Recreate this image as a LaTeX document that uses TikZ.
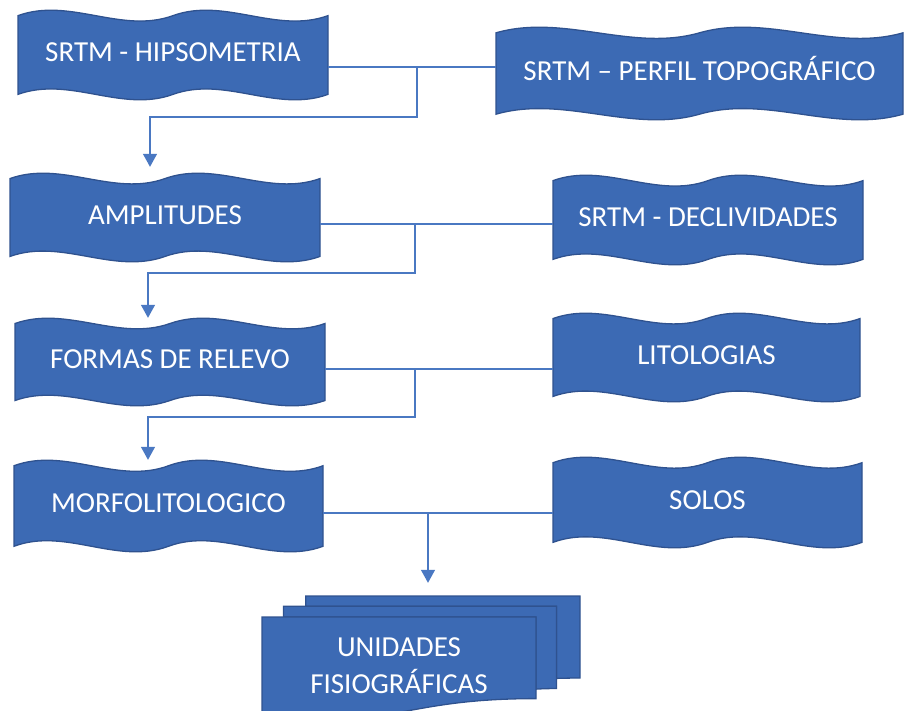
\documentclass[tikz,border=0pt]{standalone}
\usepackage{fontspec}
\setmainfont{Carlito}
\usetikzlibrary{arrows.meta}
\definecolor{wavefill}{HTML}{3C6AB4}
\definecolor{waveline}{HTML}{2F528F}
\definecolor{linkblue}{HTML}{4A78C2}

% double wave box: name, left, top, right, bottom, label
\newcommand\wavebox[6]{%
  \pgfmathsetmacro\wvA{0.0625*(#5-#3)}%
  \pgfmathsetmacro\wvD{\wvA*10/3}%
  \pgfmathsetmacro\wvS{(#4-#2)/6}%
  \filldraw[wave] ({#2},{#3+\wvA})
      .. controls ({#2+\wvS},{#3+\wvA-\wvD}) and ({#2+2*\wvS},{#3+\wvA+\wvD}) .. ({#2+3*\wvS},{#3+\wvA})
      .. controls ({#2+4*\wvS},{#3+\wvA-\wvD}) and ({#2+5*\wvS},{#3+\wvA+\wvD}) .. ({#4},{#3+\wvA})
      -- ({#4},{#5-\wvA})
      .. controls ({#4-\wvS},{#5-\wvA+\wvD}) and ({#4-2*\wvS},{#5-\wvA-\wvD}) .. ({#2+3*\wvS},{#5-\wvA})
      .. controls ({#2+2*\wvS},{#5-\wvA+\wvD}) and ({#2+\wvS},{#5-\wvA-\wvD}) .. ({#2},{#5-\wvA})
      -- cycle;
  \node[wavetext, minimum width={#4-#2}, minimum height={#5-#3}] (#1)
      at ({(#2+#4)/2},{(#3+#5)/2}) {#6};
}

\begin{document}
\begin{tikzpicture}[x=1pt, y=-1pt,
        wave/.style={fill=wavefill, draw=waveline, line width=1.3pt},
        wavetext/.style={inner sep=0pt, text=white, font=\fontsize{29}{37}\selectfont,
                text height=19pt, text depth=6pt},
        link/.style={draw=linkblue, line width=1.3pt},
        arrowlink/.style={link, -{Triangle[width=14pt,length=13pt]}}]
    \useasboundingbox (0,0) rectangle (904,710);

    \wavebox{hips}{18}{10}{328}{100}{SRTM - HIPSOMETRIA}
    \wavebox{perfil}{496}{27}{903}{120}{SRTM -- PERFIL TOPOGRÁFICO}
    \wavebox{amp}{10}{173}{320}{262}{AMPLITUDES}
    \wavebox{decl}{553}{175}{863}{265}{SRTM - DECLIVIDADES}
    \wavebox{formas}{15}{318}{325}{406}{FORMAS DE RELEVO}
    \wavebox{lito}{553}{313}{860}{402}{LITOLOGIAS}
    \wavebox{morfo}{14}{460}{323}{552}{MORFOLITOLOGICO}
    \wavebox{solos}{553}{457}{862}{548}{SOLOS}

    % stacked pages
    \filldraw[wave] (305.8,606.3) -- (305.8,596) -- (580,596) -- (580,678)
        .. controls (568.2,678) and (556.4,678.4) .. (556.4,678.4) -- (556.4,606.3) -- cycle;
    \filldraw[wave] (283.5,617) -- (283.5,606.3) -- (556.4,606.3) -- (556.4,688.5)
        .. controls (546,688.5) and (536,689.1) .. (536,689.1) -- (536,617) -- cycle;
    \filldraw[wave] (262,617) -- (536,617) -- (536,698.6)
        .. controls (399,698.6) and (399,730) .. (262,714.3) -- cycle;
    \node[inner sep=0pt, text=white, font=\fontsize{29}{37}\selectfont, align=center,
            minimum width=274pt, minimum height=97pt] (unid) at (399,665.5)
            {UNIDADES\\FISIOGRÁFICAS};

    \coordinate (j1) at (417,67);
    \coordinate (b1) at (150,117);
    \coordinate (j2) at (415,224);
    \coordinate (b2) at (148,273);
    \coordinate (j3) at (415,369);
    \coordinate (b3) at (148,417);
    \coordinate (j4) at (428,513);

    \draw[link] (j1 -| hips.east) -- (j1 -| perfil.west);
    \draw[arrowlink, shorten >=6pt] (j1) |- (b1) -- (b1 |- amp.north);
    \draw[link] (j2 -| amp.east) -- (j2 -| decl.west);
    \draw[arrowlink, shorten >=0pt] (j2) |- (b2) -- (b2 |- formas.north);
    \draw[link] (j3 -| formas.east) -- (j3 -| lito.west);
    \draw[arrowlink, shorten >=0pt] (j3) |- (b3) -- (b3 |- morfo.north);
    \draw[link] (j4 -| morfo.east) -- (j4 -| solos.west);
    \draw[arrowlink, shorten >=34pt] (j4) -- (j4 |- unid.north);
\end{tikzpicture}
\end{document}
